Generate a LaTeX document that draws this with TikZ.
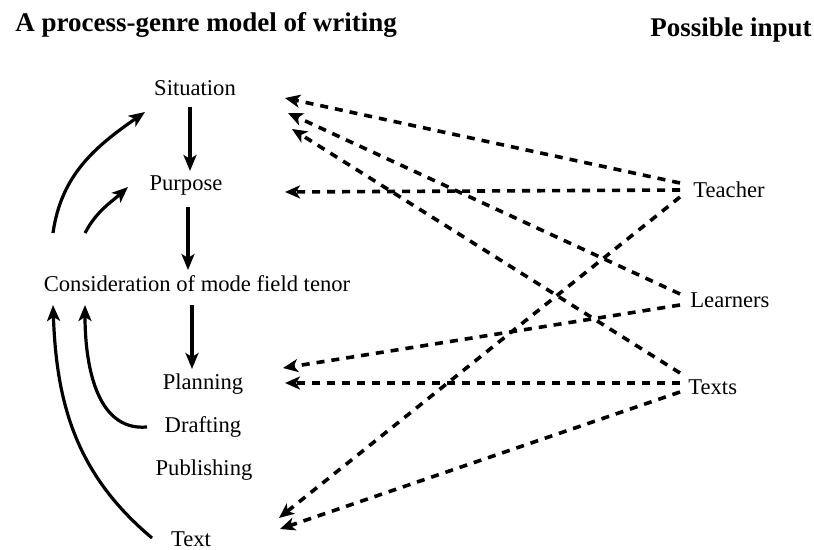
\documentclass[tikz,border=0pt]{standalone}
\usepackage{fontspec}
\setmainfont{Liberation Serif}
\usetikzlibrary{arrows.meta,calc}
\begin{document}
\begin{tikzpicture}[x=0.5pt,y=-0.5pt,
  lbl/.style={font=\fontsize{11.3}{13}\selectfont, inner sep=0pt, anchor=base},
  ttl/.style={font=\fontsize{13.5}{16}\selectfont\bfseries, inner sep=0pt, anchor=base west},
  solidarr/.style={line width=1.6pt, -{Stealth[length=8pt,width=6.5pt,inset=2pt]}},
  dasharr/.style={line width=1.8pt, dash pattern=on 4pt off 3.5pt, -{Stealth[length=7.5pt,width=6.5pt,inset=2pt]}},
]
\useasboundingbox (0,0) rectangle (814,550);
% titles
\node[ttl] (title) at (15,32) {A process-genre model of writing};
\node[ttl] (inp) at (650,37) {Possible input};
% left column
\node[lbl] (sit) at (195,96) {Situation};
\node[lbl] (pur) at (186,191) {Purpose};
\node[lbl] (con) at (197,292) {Consideration of mode field tenor};
\node[lbl] (pla) at (203,390) {Planning};
\node[lbl] (dra) at (203,433) {Drafting};
\node[lbl] (pub) at (204,476) {Publishing};
\node[lbl] (txt) at (191,546) {Text};
% right column
\node[lbl, anchor=base west] (tea) at (693,198) {Teacher};
\node[lbl, anchor=base west] (lea) at (690,308) {Learners};
\node[lbl, anchor=base west] (tex) at (688,395) {Texts};
% anchor coordinates for connectors
\coordinate (sitB) at (190,107);
\coordinate (purT) at (190,171);
\coordinate (purB) at (188,207);
\coordinate (conT) at (188,270);
\coordinate (conB) at (192,305);
\coordinate (plaT) at (192,369);
\coordinate (conL1) at (53,305);
\coordinate (conL2) at (85,305);
\coordinate (conU1) at (53,233);
\coordinate (conU2) at (85,233);
\coordinate (sitL) at (145,112);
\coordinate (purL) at (128,187);
\coordinate (draL) at (147,427);
\coordinate (txtL) at (152,538);
\coordinate (sitR1) at (285,98);
\coordinate (sitR2) at (288,113);
\coordinate (sitR3) at (292,129);
\coordinate (purR) at (285,192);
\coordinate (plaR1) at (283,368);
\coordinate (plaR2) at (285,383);
\coordinate (txtR1) at (279,518);
\coordinate (txtR2) at (280,529);
\coordinate (teaA) at (680,183);
\coordinate (teaB) at (680,190);
\coordinate (teaC) at (680,197);
\coordinate (leaA) at (680,294);
\coordinate (leaB) at (680,305);
\coordinate (texA) at (680,373);
\coordinate (texB) at (680,383);
\coordinate (texC) at (680,392);
% solid arrows
\draw[solidarr] (sitB) -- (purT);
\draw[solidarr] (purB) -- (conT);
\draw[solidarr] (conB) -- (plaT);
\draw[solidarr] (conU1) to[out=82,in=215] (sitL);
\draw[solidarr] (conU2) to[out=62,in=222] (purL);
\draw[solidarr] (draL) to[out=185,in=270] (conL2);
\draw[solidarr] (txtL) to[out=140,in=272] (conL1);
% dashed arrows
\draw[dasharr] (teaA) -- (sitR1);
\draw[dasharr] (teaB) -- (purR);
\draw[dasharr] (teaC) -- (txtR1);
\draw[dasharr] (leaA) -- (sitR2);
\draw[dasharr] (leaB) -- (plaR1);
\draw[dasharr] (texA) -- (sitR3);
\draw[dasharr] (texB) -- (plaR2);
\draw[dasharr] (texC) -- (txtR2);
\end{tikzpicture}
\end{document}
